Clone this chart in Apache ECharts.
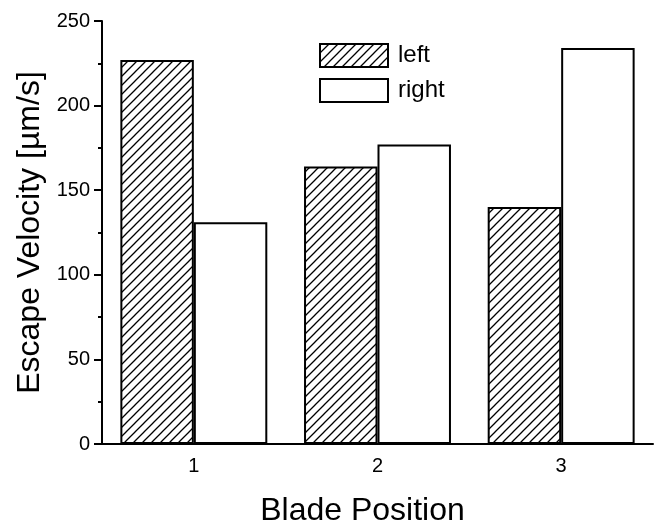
<!DOCTYPE html>
<html>
<head>
<meta charset="utf-8">
<script src="https://cdn.jsdelivr.net/npm/echarts@6/dist/echarts.min.js"></script>
<style>html,body{margin:0;padding:0;background:#fff;}#c{width:654px;height:520px;}</style>
</head>
<body>
<div id="c"></div>
<script>
const categories = ['1', '2', '3'];
const leftValues = [227, 164, 140];
const rightValues = [131, 177, 234];
const seriesNames = ['left', 'right'];
const xAxisTitle = 'Blade Position';
const yAxisTitle = 'Escape Velocity [µm/s]';

function hatch() {
  const s = 9;
  const c = document.createElement('canvas');
  c.width = s; c.height = s;
  const g = c.getContext('2d');
  g.fillStyle = '#fff';
  g.fillRect(0, 0, s, s);
  g.strokeStyle = '#000';
  g.lineWidth = 1.3;
  g.beginPath();
  g.moveTo(0, s); g.lineTo(s, 0);
  g.moveTo(-s / 2, s / 2); g.lineTo(s / 2, -s / 2);
  g.moveTo(s / 2, s + s / 2); g.lineTo(s + s / 2, s / 2);
  g.stroke();
  return c;
}

const font = 'Liberation Sans, Arial, sans-serif';
const chart = echarts.init(document.getElementById('c'), null, {renderer: 'canvas'});
chart.setOption({
  animation: false,
  backgroundColor: '#fff',
  textStyle: {fontFamily: font, color: '#000'},
  grid: {left: 102, right: 1, top: 21, bottom: 76, containLabel: false, outerBoundsMode: 'none'},
  legend: {
    orient: 'vertical', left: 314, top: 38,
    icon: 'rect',
    itemWidth: 68, itemHeight: 23, itemGap: 10,
    textStyle: {fontFamily: font, fontSize: 24, color: '#000', padding: [0, 0, 0, 5]},
    data: seriesNames
  },
  xAxis: {
    type: 'category', data: categories,
    name: xAxisTitle, nameLocation: 'middle', nameGap: 51,
    nameTextStyle: {fontFamily: font, fontSize: 32, color: '#000', padding: [0, 30, 0, 0]},
    axisLine: {lineStyle: {color: '#000', width: 2}},
    axisTick: {alignWithLabel: true, length: 8, lineStyle: {color: '#000', width: 2}},
    axisLabel: {fontFamily: font, fontSize: 20, color: '#000', margin: 12}
  },
  yAxis: {
    type: 'value', min: 0, max: 250, interval: 50,
    name: yAxisTitle, nameLocation: 'middle', nameGap: 56,
    nameTextStyle: {fontFamily: font, fontSize: 32, color: '#000'},
    axisLine: {show: true, lineStyle: {color: '#000', width: 2}},
    axisTick: {show: true, length: 8, lineStyle: {color: '#000', width: 2}},
    minorTick: {show: true, splitNumber: 2, length: 4, lineStyle: {color: '#000', width: 2}},
    splitLine: {show: false},
    axisLabel: {fontFamily: font, fontSize: 20, color: '#000', margin: 12}
  },
  series: [
    {name: seriesNames[0], type: 'bar', data: leftValues, barGap: '0%', barCategoryGap: '20%',
     itemStyle: {color: {image: hatch(), repeat: 'repeat'}, borderColor: '#000', borderWidth: 2}},
    {name: seriesNames[1], type: 'bar', data: rightValues, barGap: '0%', barCategoryGap: '20%',
     itemStyle: {color: '#fff', borderColor: '#000', borderWidth: 2}}
  ]
});
</script>
</body>
</html>
